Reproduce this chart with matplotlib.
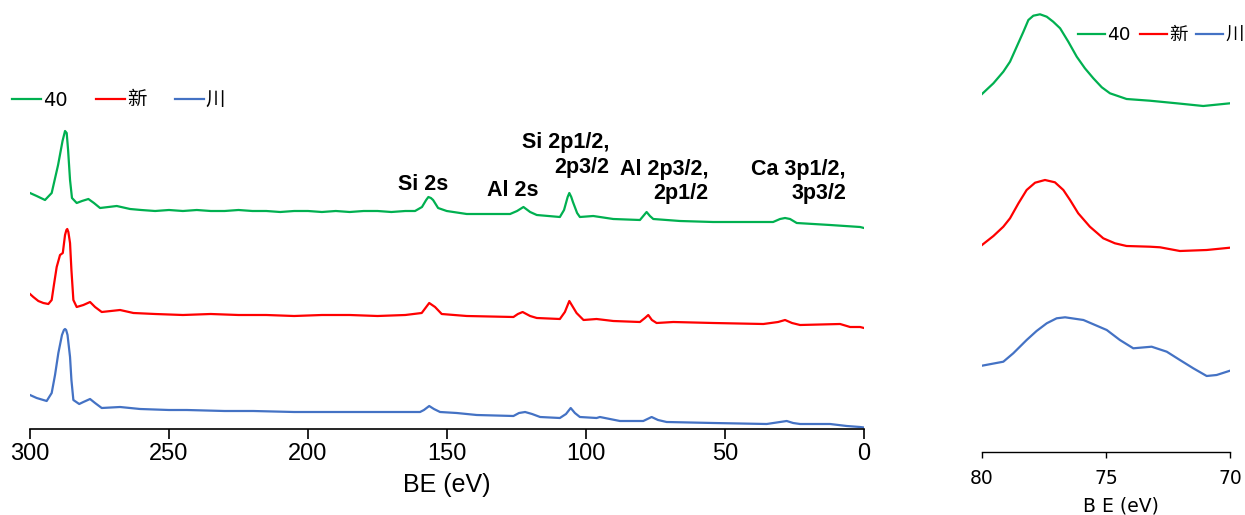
import matplotlib
matplotlib.use("Agg")
import matplotlib.pyplot as plt
from matplotlib.lines import Line2D

# ---------------- data (survey spectra) ----------------
be_40 = [300, 297.6, 294.6, 292.2, 289.9, 288.3, 287.4, 286.8, 286.3, 285.6, 284.9, 283.2, 281.3, 279.0, 277.0,
         274.8, 268.8, 264.0, 260, 255, 250, 245, 240, 235, 230, 225, 220, 215, 210, 205, 200,
         195, 190, 185, 180, 175, 170, 165, 161.5, 159, 157.5, 156.7, 155.8, 155, 153.2, 150.1, 142.9, 134.5,
         127.3, 124.8, 122.5, 120.1, 117.7, 109.4, 107.9, 106.6, 106.0, 105.3, 104.7, 103.2, 102.2, 97.4, 95.0,
         90.2, 80.6, 79.1, 78.2, 77.0, 75.8, 66.2, 54.3, 42.2, 32.7, 30.2, 28.4, 26.6, 24.2, 12.2,
         6.8, 1.4, 0]
int_40 = [236, 233, 229, 236, 264, 288, 298, 296, 279, 249, 231, 226, 228, 230, 226,
          221, 223, 220, 219, 218, 219, 218, 219, 218, 218, 219, 218, 218, 217, 218, 218,
          217, 218, 217, 218, 218, 217, 218, 218, 222, 229, 232, 231, 229, 221, 218, 215, 215,
          215, 218, 222, 217, 214, 212, 219, 232, 236, 232, 227, 216, 212, 213, 212,
          210, 209, 214, 217, 213, 210, 208, 207, 207, 207, 210, 211, 210, 206, 204,
          203, 202, 201]

be_new = [300, 298.8, 297.0, 295.2, 293.4, 292.2, 291.4, 290.4, 289.2, 288.2, 287.4, 286.9, 286.6, 286.2,
          285.6, 285.1, 284.4, 283.2, 280.8, 278.4, 276.6, 274.2, 267.6, 262.8, 255, 245, 235,
          225, 215, 205, 195, 185, 175, 165, 159.1, 156.4, 154.3, 151.9, 142.9, 126.1, 124.5,
          122.8, 120.1, 117.7, 109.4, 107.6, 106.0, 103.4, 100.9, 96.2, 90.2, 80.6, 78.8, 77.6,
          76.3, 74.6, 68.6, 54.2, 36.2, 30.9, 28.4, 25.9, 23.0, 8.6, 5.0, 1.4, 0]
int_new = [135, 132, 128, 126, 125, 129, 144, 162, 174, 176, 194, 199, 200, 197,
           186, 159, 129, 122, 124, 127, 122, 117, 119, 116, 115, 114, 115,
           114, 114, 113, 114, 114, 113, 114, 116, 126, 122, 115, 113, 112, 115,
           117, 113, 111, 110, 117, 128, 116, 109, 110, 108, 107, 111, 114,
           109, 106, 107, 106, 105, 107, 109, 106, 104, 105, 102, 102, 101]

be_chuan = [300, 297.6, 294.0, 292.2, 291.0, 289.8, 288.5, 287.8, 287.4, 287.0, 286.5, 285.6, 285.1, 284.4, 282.3,
            280.8, 278.4, 276.6, 274.2, 267.6, 260.4, 250, 243.6, 230, 219.7, 205, 195.7, 185,
            174.1, 159.7, 158.3, 156.4, 154.7, 152.5, 146.5, 139.3, 126.1, 124.1, 121.9, 119.4,
            116.5, 109.4, 107.2, 105.5, 104.0, 102.2, 96.2, 95, 87.8, 79.4, 76.4, 74.1, 71.0, 54.2,
            35.0, 30.2, 27.8, 25.5, 23.0, 12.2, 6.2, 1.4, 0]
int_chuan = [34, 31, 28, 36, 54, 76, 94, 99, 100, 99, 94, 72, 49, 29, 25,
             27, 30, 26, 21, 22, 20, 19, 19, 18, 18, 17, 17, 17,
             17, 17, 19, 23, 20, 17, 16, 14, 13, 16, 17, 15,
             12, 11, 15, 21, 16, 12, 11, 12, 8, 8, 12, 9, 7, 6,
             5, 7, 8, 6, 5, 5, 3, 2, 1.5]

# ---------------- data (Al 2p region) ----------------
be_zoom_40 = [80.0, 79.54, 79.14, 78.87, 78.60, 78.33, 78.13, 77.93, 77.66, 77.39, 77.13, 76.85,
              76.52, 76.18, 75.85, 75.51, 75.17, 74.84, 74.17, 73.23, 72.15, 71.08, 70.0]
int_zoom_40 = [358, 368.7, 380.3, 390.3, 405.3, 420.3, 432, 436.3, 437.7, 435.3, 430.3, 423.7,
               410.3, 395.3, 383.7, 373.7, 364.7, 358.7, 353, 351.3, 348.7, 346, 348.7]

be_zoom_new = [80.0, 79.54, 79.14, 78.87, 78.53, 78.20, 77.86, 77.46, 77.06, 76.72, 76.45, 76.12,
               75.65, 75.11, 74.64, 74.17, 73.23, 72.82, 72.02, 70.94, 70.0]
int_zoom_new = [207, 216, 225.3, 233.7, 248.7, 262, 269.3, 272, 269.7, 262, 252, 238.7,
                225.3, 213.7, 208.7, 206, 205.3, 204.7, 201, 202, 204.3]

be_zoom_chuan = [80.0, 79.14, 78.74, 78.20, 77.80, 77.39, 76.99, 76.65, 75.91, 74.97, 74.44, 73.90,
                 73.16, 72.55, 72.02, 71.48, 70.94, 70.54, 70.0]
int_zoom_chuan = [86.3, 90.3, 98.7, 112, 121, 128.7, 133.7, 134.7, 132, 122, 112, 103.7,
                  105.3, 100.3, 92, 83.7, 76, 77, 81.3]

series_names = ["40", "新", "川"]
colors = ["#00B050", "#FF0000", "#4472C4"]

peak_labels = ["Si 2s", "Al 2s", "Si 2p1/2,\n2p3/2", "Al 2p3/2,\n2p1/2", "Ca 3p1/2,\n3p3/2"]

# ---------------- figure ----------------
W, H = 1245, 515
fig = plt.figure(figsize=(W / 100, H / 100), dpi=100)

lw = 1.6
arial = "Liberation Sans"

# Main survey axes
ax = fig.add_axes([30 / W, (H - 429) / H, (864 - 30) / W, 369 / H])
ax.plot(be_40, int_40, color=colors[0], lw=lw)
ax.plot(be_new, int_new, color=colors[1], lw=lw)
ax.plot(be_chuan, int_chuan, color=colors[2], lw=lw)
ax.set_xlim(300, 0)
ax.set_ylim(0, 369)
ax.set_xticks([300, 250, 200, 150, 100, 50, 0])
for s in ["top", "right", "left"]:
    ax.spines[s].set_visible(False)
ax.spines["bottom"].set_linewidth(1.2)
ax.set_yticks([])
ax.tick_params(axis="x", direction="out", length=7, width=1.2, labelsize=17, pad=3)
for lab in ax.get_xticklabels():
    lab.set_family(arial)
ax.set_xlabel("BE (eV)", fontsize=18, family=arial, labelpad=6)

# peak annotations (x in BE, y in intensity units)
ann_x = [158.6, 126.3, 91.7, 56.1, 6.5]
ann_y = [245, 238, 274, 247.5, 247.5]
ann_ha = ["center", "center", "right", "right", "right"]
for t, x, y, ha in zip(peak_labels, ann_x, ann_y, ann_ha):
    ax.text(x, y, t, ha=ha, va="center", multialignment="right", fontsize=15.5,
            fontweight="bold", family=arial, linespacing=1.2)

handles = [Line2D([], [], color=c, lw=lw) for c in colors]
leg_font = ["DejaVu Sans", "Noto Sans CJK SC"]
fig.legend(handles, series_names, loc="center left", bbox_to_anchor=(12 / W, 1 - 100 / H),
           ncol=3, frameon=False, borderpad=0, borderaxespad=0, handlelength=1.5,
           handletextpad=0.1, columnspacing=1.45, prop={"family": leg_font, "size": 14})

# Inset Al 2p axes
ax2 = fig.add_axes([982 / W, (H - 452) / H, (1230 - 982) / W, 450 / H])
ax2.plot(be_zoom_40, int_zoom_40, color=colors[0], lw=lw)
ax2.plot(be_zoom_new, int_zoom_new, color=colors[1], lw=lw)
ax2.plot(be_zoom_chuan, int_zoom_chuan, color=colors[2], lw=lw)
ax2.set_xlim(80, 70)
ax2.set_ylim(0, 450)
ax2.set_xticks([80, 75, 70])
for s in ["top", "right", "left"]:
    ax2.spines[s].set_visible(False)
ax2.set_yticks([])
ax2.spines["bottom"].set_linewidth(1.0)
ax2.tick_params(axis="x", direction="out", length=4, width=1.0, labelsize=13.5, pad=8)
for lab in ax2.get_xticklabels():
    lab.set_family("DejaVu Sans")
ax2.set_xlabel("B E (eV)", fontsize=13.5, family="DejaVu Sans")
ax2.xaxis.set_label_coords((1121 - 982) / (1230 - 982), -(506 - 452) / 450)
ax2.xaxis.label.set_va("center")

fig.legend(handles, series_names, loc="center left", bbox_to_anchor=(1078 / W, 1 - 35 / H),
           ncol=3, frameon=False, borderpad=0, borderaxespad=0, handlelength=1.45,
           handletextpad=0.12, columnspacing=0.5, prop={"family": leg_font, "size": 13.3})

fig.savefig("out.png", dpi=100)
